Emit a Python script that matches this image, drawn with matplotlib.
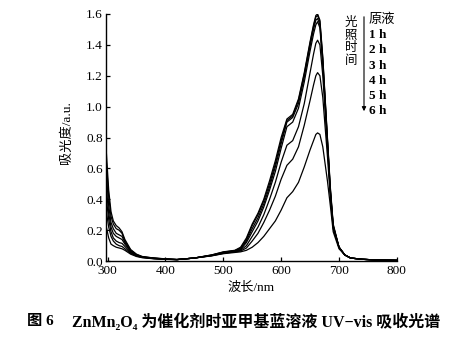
import numpy as np
import matplotlib
matplotlib.use('Agg')
import matplotlib.pyplot as plt

plt.rcParams['font.family'] = ['Liberation Serif', 'DejaVu Serif', 'Noto Sans CJK SC']

# wavelength grid (nm)
wl = [298, 302, 306, 310, 315, 320, 325, 330, 340, 350, 360, 380, 400, 420,
      450, 480, 500, 520, 530, 540, 550, 560, 570, 580, 590, 600, 610, 620,
      630, 640, 650, 656, 660, 663, 667, 672, 680, 685, 690, 700, 710, 720,
      740, 760, 800]

# absorbance, one list per irradiation time
raw = [0.70, 0.46, 0.32, 0.26, 0.23, 0.215, 0.19, 0.14, 0.075, 0.045, 0.03, 0.02, 0.015, 0.01,
       0.02, 0.04, 0.06, 0.07, 0.09, 0.15, 0.24, 0.31, 0.40, 0.52, 0.65, 0.80, 0.92, 0.95,
       1.05, 1.22, 1.42, 1.53, 1.59, 1.60, 1.56, 1.32, 0.80, 0.48, 0.24, 0.09, 0.04, 0.02,
       0.012, 0.008, 0.005]
h1 = [0.64, 0.42, 0.29, 0.24, 0.21, 0.20, 0.18, 0.13, 0.07, 0.042, 0.028, 0.02, 0.014, 0.01,
      0.02, 0.04, 0.058, 0.068, 0.085, 0.14, 0.23, 0.30, 0.39, 0.50, 0.63, 0.78, 0.91, 0.94,
      1.04, 1.21, 1.41, 1.52, 1.58, 1.59, 1.55, 1.31, 0.79, 0.47, 0.23, 0.09, 0.04, 0.02,
      0.012, 0.008, 0.005]
h2 = [0.56, 0.36, 0.25, 0.21, 0.18, 0.17, 0.16, 0.12, 0.065, 0.04, 0.027, 0.019, 0.013, 0.01,
      0.02, 0.038, 0.056, 0.066, 0.08, 0.13, 0.21, 0.28, 0.37, 0.48, 0.61, 0.76, 0.90, 0.93,
      1.02, 1.19, 1.39, 1.50, 1.56, 1.57, 1.53, 1.29, 0.78, 0.46, 0.23, 0.09, 0.04, 0.02,
      0.012, 0.008, 0.005]
h3 = [0.47, 0.31, 0.22, 0.18, 0.16, 0.15, 0.14, 0.11, 0.06, 0.038, 0.026, 0.018, 0.013, 0.01,
      0.02, 0.037, 0.054, 0.064, 0.075, 0.12, 0.19, 0.26, 0.35, 0.46, 0.58, 0.73, 0.87, 0.90,
      0.99, 1.16, 1.36, 1.47, 1.53, 1.55, 1.51, 1.27, 0.77, 0.45, 0.22, 0.09, 0.04, 0.02,
      0.012, 0.008, 0.005]
h4 = [0.40, 0.27, 0.19, 0.15, 0.13, 0.12, 0.115, 0.095, 0.055, 0.035, 0.025, 0.017, 0.012, 0.01,
      0.02, 0.036, 0.052, 0.062, 0.07, 0.10, 0.16, 0.22, 0.30, 0.40, 0.51, 0.64, 0.75, 0.78,
      0.87, 1.02, 1.22, 1.34, 1.41, 1.43, 1.40, 1.20, 0.74, 0.44, 0.22, 0.09, 0.04, 0.02,
      0.012, 0.008, 0.005]
h5 = [0.32, 0.22, 0.16, 0.13, 0.11, 0.10, 0.095, 0.08, 0.05, 0.033, 0.024, 0.016, 0.012, 0.01,
      0.02, 0.035, 0.05, 0.06, 0.065, 0.085, 0.13, 0.18, 0.25, 0.33, 0.42, 0.53, 0.62, 0.66,
      0.74, 0.88, 1.04, 1.14, 1.20, 1.22, 1.20, 1.06, 0.68, 0.42, 0.21, 0.09, 0.04, 0.02,
      0.012, 0.008, 0.005]
h6 = [0.22, 0.15, 0.11, 0.10, 0.09, 0.085, 0.08, 0.07, 0.045, 0.03, 0.022, 0.015, 0.011, 0.01,
      0.02, 0.034, 0.048, 0.056, 0.06, 0.07, 0.09, 0.12, 0.16, 0.21, 0.26, 0.33, 0.41, 0.45,
      0.51, 0.61, 0.72, 0.78, 0.82, 0.83, 0.82, 0.74, 0.52, 0.36, 0.19, 0.08, 0.04, 0.02,
      0.012, 0.008, 0.005]

series = [raw, h1, h2, h3, h4, h5, h6]
legend_labels = ['原液', '1 h', '2 h', '3 h', '4 h', '5 h', '6 h']

fig = plt.figure(figsize=(4.62, 3.40), dpi=100)
ax = fig.add_axes([0.229, 0.232, 0.630, 0.727])

for s in series:
    ax.plot(wl, s, color='black', lw=0.9)

ax.set_xlim(297, 800)
ax.set_ylim(0, 1.6)
ax.set_xticks([300, 400, 500, 600, 700, 800])
ax.set_yticks(np.arange(0, 1.61, 0.2))
ax.set_yticklabels(['%.1f' % v for v in np.arange(0, 1.61, 0.2)])
ax.spines['top'].set_visible(False)
ax.spines['right'].set_visible(False)
ax.tick_params(direction='in', length=3, width=0.9, labelsize=9.5, pad=2)
ax.tick_params(axis='x', pad=3)
for sp in ax.spines.values():
    sp.set_linewidth(1.0)

ax.set_xlabel('波长/nm', fontsize=9.5, labelpad=3)
ax.set_ylabel('吸光度/a.u.', fontsize=9.5)
ax.yaxis.set_label_coords(-0.113, 0.52)

# legend-like annotation
fig.text(351 / 462, 1 - 42 / 340, '光\n照\n时\n间', fontsize=9, ha='center', va='center',
         linespacing=1.05)
ax.annotate('', xy=(364 / 462, 1 - 114 / 340), xytext=(364 / 462, 1 - 14 / 340),
            xycoords='figure fraction',
            arrowprops=dict(arrowstyle='-|>', color='black', lw=0.8, mutation_scale=6))
for i, lab in enumerate(legend_labels):
    fig.text(369 / 462, 1 - (20 + i * 15.2) / 340, lab, fontsize=9.5, ha='left', va='center',
             fontweight='bold' if i > 0 else 'normal')

# caption
fig.text(27 / 462, 1 - 322 / 340, '图 6', fontsize=11, ha='left', va='center',
         fontweight='bold')
fig.text(72 / 462, 1 - 322 / 340, 'ZnMn₂O₄ 为催化剂时亚甲基蓝溶液 UV−vis 吸收光谱',
         fontsize=11.5, ha='left', va='center', fontweight='bold')

fig.savefig('out.png', dpi=100)
